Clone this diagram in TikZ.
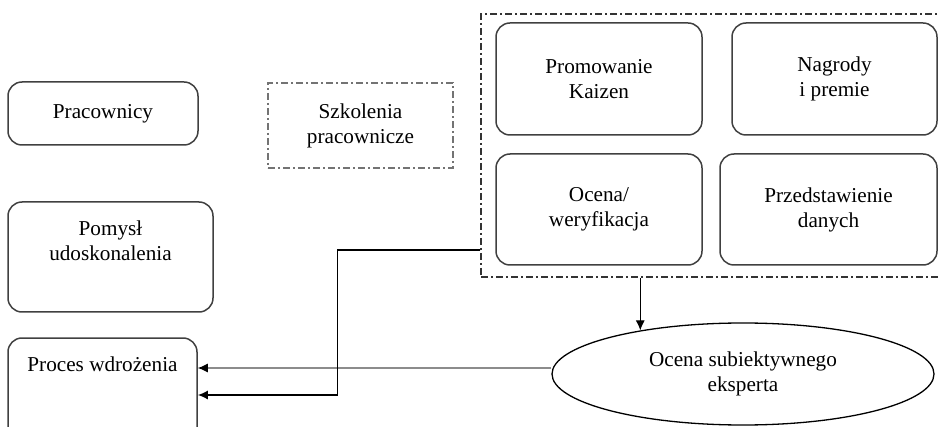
\documentclass[tikz,border=0pt]{standalone}
\usepackage{fontspec}
\setmainfont{Liberation Serif}
\usetikzlibrary{arrows.meta}
\usetikzlibrary{shapes.geometric}

\begin{document}
\begin{tikzpicture}[x=1pt,y=-1pt,
    box/.style={shape=rectangle,rounded corners=14pt,draw=black!75,line width=1.5pt,align=center,inner sep=0pt},
    ramka/.style={shape=rectangle,line width=1.2pt,dash pattern=on 7pt off 3pt on 2pt off 3pt,align=center,inner sep=0pt},
    tip/.style={-{Latex[length=10pt,width=9pt,color=black]}},
    every node/.style={font=\fontsize{21.2}{25}\selectfont}]
      \useasboundingbox (0,0) rectangle (939,427);
      \clip (0,0) rectangle (939,427);
      % left column
      \node[box,minimum width=190pt,minimum height=63pt] (prac) at (103,113.5) {Pracownicy};
      \node[box,minimum width=205pt,minimum height=110pt] (pomysl) at (110.5,257) {Pomysł\\udoskonalenia\\\strut};
      \node[box,minimum width=189pt,minimum height=110pt] (proces) at (102.5,393) {Proces wdrożenia\\\strut\\\strut};
      \node[ramka,draw=black!55,minimum width=185pt,minimum height=85pt] (szkol) at (360.5,125.5) {Szkolenia\\pracownicze};
      % group of four
      \node[ramka,draw=black!80,minimum width=469pt,minimum height=263pt] (grupa) at (715.5,145.5) {};
      \node[box,minimum width=206pt,minimum height=112pt] (prom) at (599,79) {Promowanie\\Kaizen};
      \node[box,minimum width=205pt,minimum height=112pt] (nagr) at (834.5,79) {Nagrody\\i premie};
      \node[box,minimum width=206pt,minimum height=111pt] (ocena) at (599,209.5) {Ocena/\\weryfikacja};
      \node[box,minimum width=217pt,minimum height=111pt] (dane) at (828.5,209.5) {Przedstawienie\\danych};
      \node[shape=ellipse,draw=black,line width=1.3pt,minimum width=382pt,minimum height=102pt,inner sep=0pt,align=center] (ekspert) at (743,374) {Ocena subiektywnego\\eksperta};
      % grupa -> ekspert
      \draw[tip,line width=1pt] (grupa.south -| ekspert.157) -- (ekspert.157);
      % ekspert -> proces
      \coordinate (e1) at ([yshift=6pt]ekspert.west);
      \draw[tip,draw=black!45,line width=1.2pt] (e1) -- (e1 -| proces.east);
      % grupa -> proces
      \coordinate (wyj) at (grupa.west |- 0,250);
      \draw[tip,line width=1.6pt] (wyj) -- ++(-143,0) |- ([yshift=-2pt]proces.east);
\end{tikzpicture}
\end{document}
